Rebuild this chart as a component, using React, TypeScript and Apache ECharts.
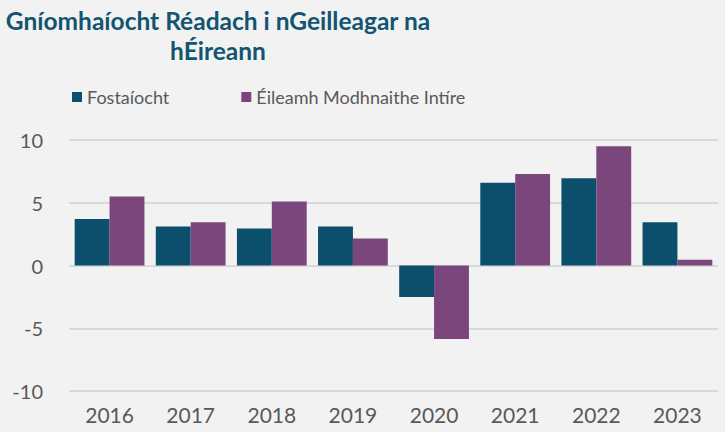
import React, { useEffect, useRef } from "react";
import * as echarts from "echarts";

const categories = ["2016", "2017", "2018", "2019", "2020", "2021", "2022", "2023"];
const fostaiocht = [3.7, 3.1, 2.95, 3.1, -2.5, 6.6, 6.95, 3.45];
const eileamh = [5.5, 3.45, 5.1, 2.15, -5.85, 7.3, 9.5, 0.45];
const seriesNames = ["Fostaíocht", "Éileamh Modhnaithe Intíre"];
const titleLines = ["Gníomhaíocht Réadach i nGeilleagar na", "hÉireann"];

export default function App() {
  const ref = useRef<HTMLDivElement>(null);
  useEffect(() => {
    const chart = echarts.init(ref.current!, null, { renderer: "svg" });
    chart.setOption({
      animation: false,
      backgroundColor: "#f2f2f2",
      textStyle: { fontFamily: "Lato" },
      graphic: [
        {
          type: "text",
          x: 218,
          y: 5,
          style: {
            text: titleLines.join("\n"),
            textAlign: "center",
            fontFamily: "Lato",
            fontWeight: "bold",
            fontSize: 24.5,
            lineHeight: 30,
            fill: "#115571",
          },
        },
      ],
      legend: {
        left: 72,
        top: 88,
        padding: 0,
        itemWidth: 10,
        itemHeight: 10,
        itemGap: 72,
        icon: "rect",
        textStyle: { fontSize: 18, color: "#595959", fontFamily: "Lato" },
        data: seriesNames,
      },
      grid: { left: 69, right: 7, top: 140, bottom: 41 },
      xAxis: {
        type: "category",
        data: categories,
        axisLine: { show: false },
        axisTick: { show: false },
        axisLabel: { fontSize: 21, color: "#595959", margin: 13, fontFamily: "Lato" },
      },
      yAxis: {
        type: "value",
        min: -10,
        max: 10,
        interval: 5,
        axisLine: { show: false },
        axisTick: { show: false },
        axisLabel: { fontSize: 20, color: "#595959", margin: 26, fontFamily: "Lato" },
        splitLine: { lineStyle: { color: "#d9d9d9", width: 2 } },
      },
      series: [
        {
          name: seriesNames[0],
          type: "bar",
          data: fostaiocht,
          barGap: "0%",
          barCategoryGap: "14%",
          itemStyle: { color: "#0b4f6c" },
        },
        {
          name: seriesNames[1],
          type: "bar",
          data: eileamh,
          barGap: "0%",
          barCategoryGap: "14%",
          itemStyle: { color: "#7b467b" },
        },
      ],
    });
    return () => chart.dispose();
  }, []);
  return (
    <div
      ref={ref}
      style={{ position: "absolute", left: 0, top: 0, width: 725, height: 432 }}
    />
  );
}
